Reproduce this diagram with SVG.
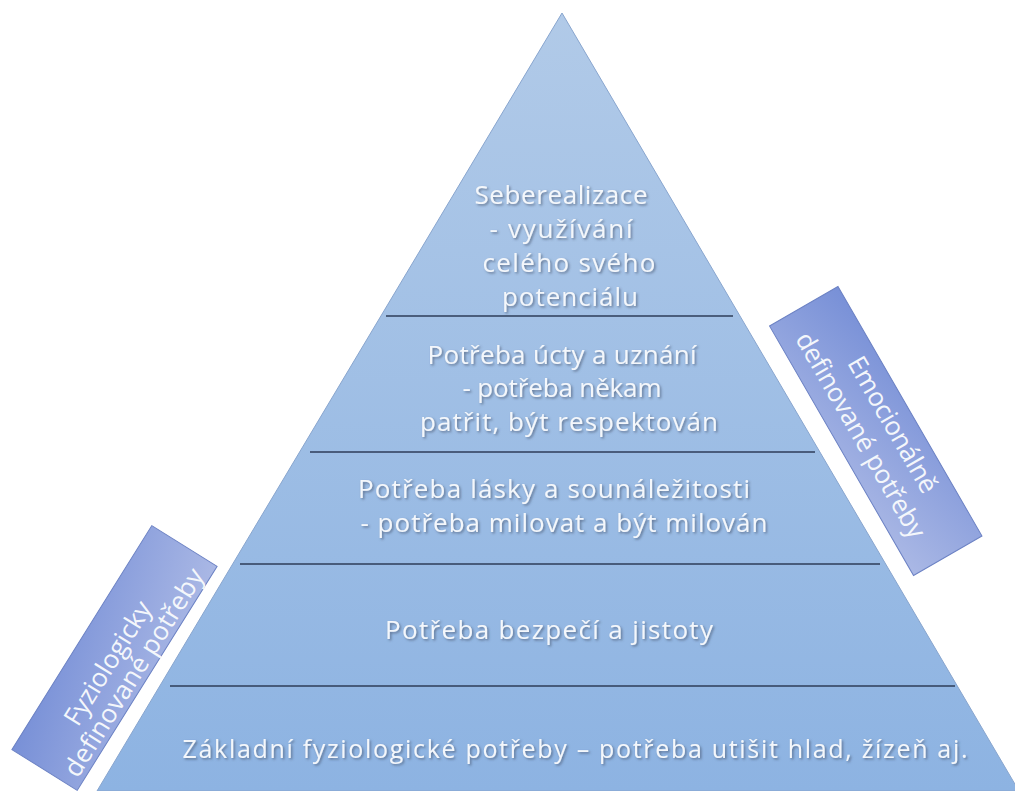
<svg xmlns="http://www.w3.org/2000/svg" width="1015" height="791" viewBox="0 0 1015 791">
  <defs>
    <linearGradient id="pyrFill" x1="0" y1="0" x2="0" y2="1">
      <stop offset="0" stop-color="#B1CAE8"/>
      <stop offset="1" stop-color="#8DB3E2"/>
    </linearGradient>
    <linearGradient id="labelFill" x1="0" y1="0" x2="1" y2="1">
      <stop offset="0" stop-color="#7890D7"/>
      <stop offset="1" stop-color="#AAB8E5"/>
    </linearGradient>
    <filter id="shadow" x="-10%" y="-30%" width="120%" height="160%">
      <feDropShadow dx="1.5" dy="1.5" stdDeviation="1.2" flood-color="#3A4A60" flood-opacity="0.6"/>
    </filter>
  </defs>
  <style>
    .txt { font-family: "Open Sans", "Noto Sans", "DejaVu Sans", sans-serif; font-size: 26px; fill: #F4F7FB; text-anchor: middle; filter: url(#shadow); }
    .side { font-family: "Open Sans", "Noto Sans", "DejaVu Sans", sans-serif; font-size: 26px; fill: #F4F7FB; text-anchor: middle; }
    .sep { stroke: #2E3C58; stroke-width: 1.6; fill: none; }
    .label { fill: url(#labelFill); stroke: #6C82C4; stroke-width: 1; }
  </style>
  <rect width="1015" height="791" fill="#FFFFFF"/>

  <g id="pyramid">
    <polygon points="562,13 1019,791 97,791" fill="url(#pyrFill)" stroke="#88A5CE" stroke-width="1"/>
  </g>

  <g id="connectors">
    <line class="sep" x1="386" y1="316" x2="733" y2="316"/>
    <line class="sep" x1="310" y1="452" x2="815" y2="452"/>
    <line class="sep" x1="240" y1="564" x2="880" y2="564"/>
    <line class="sep" x1="170" y1="686" x2="955" y2="686"/>
  </g>

  <g id="level-selfactualization">
    <text class="txt" x="561" y="204" textLength="173">Seberealizace</text>
    <text class="txt" x="561" y="238" textLength="143">- využívání</text>
    <text class="txt" x="569" y="272" textLength="173">celého svého</text>
    <text class="txt" x="570" y="306" textLength="136">potenciálu</text>
  </g>

  <g id="level-esteem">
    <text class="txt" x="562" y="364" textLength="269">Potřeba úcty a uznání</text>
    <text class="txt" x="562" y="397" textLength="199">- potřeba někam</text>
    <text class="txt" x="569" y="431" textLength="298">patřit, být respektován</text>
  </g>

  <g id="level-love">
    <text class="txt" x="554" y="498" textLength="392">Potřeba lásky a sounáležitosti</text>
    <text class="txt" x="564" y="532" textLength="407">- potřeba milovat a být milován</text>
  </g>

  <g id="level-safety">
    <text class="txt" x="549" y="639" textLength="328">Potřeba bezpečí a jistoty</text>
  </g>

  <g id="level-physiological">
    <text class="txt" x="575" y="758" textLength="785" style="font-size:25px">Základní fyziologické potřeby – potřeba utišit hlad, žízeň aj.</text>
  </g>

  <g id="label-physiological" transform="translate(114.5,658) rotate(-58)">
    <rect class="label" x="-132" y="-38.5" width="264" height="77"/>
    <text class="side" x="-8" y="6" textLength="141">Fyziologicky</text>
    <text class="side" x="-2" y="33" textLength="240">definované potřeby</text>
  </g>

  <g id="label-emotional" transform="translate(875.75,431) rotate(60)">
    <rect class="label" x="-144" y="-39.5" width="288" height="79"/>
    <text class="side" x="3" y="-9" textLength="153">Emocionálně</text>
    <text class="side" x="-4" y="24" textLength="233">definované potřeby</text>
  </g>
</svg>
